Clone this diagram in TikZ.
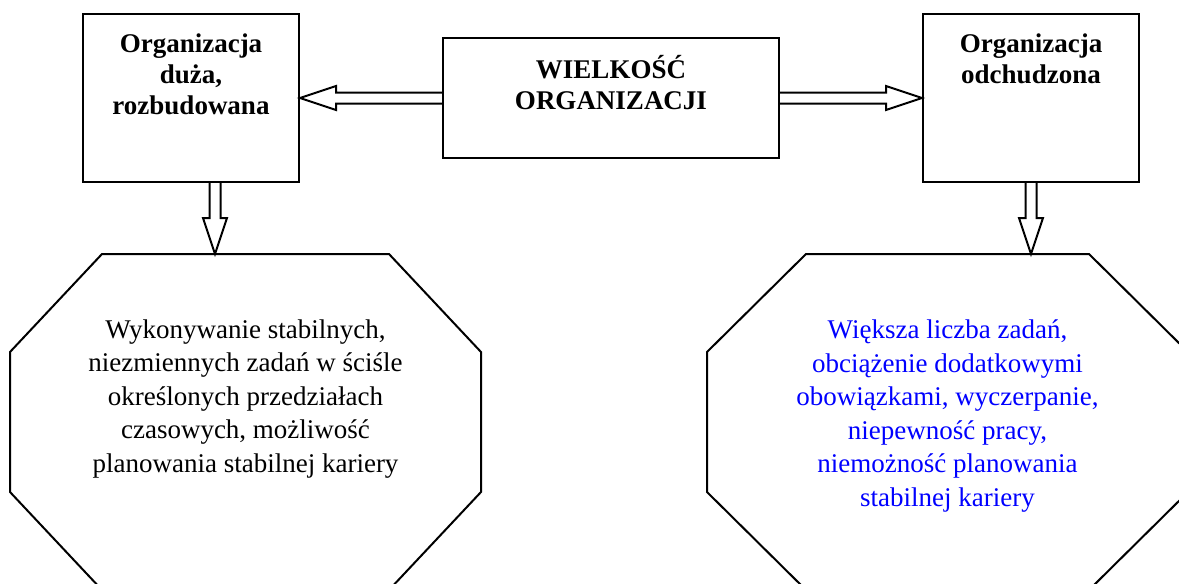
\documentclass[tikz,border=0pt]{standalone}
\usepackage{fontspec}
\setmainfont{Liberation Serif}
\usepackage{xcolor}
\usetikzlibrary{calc, positioning}
\definecolor{txtblue}{RGB}{0,0,255}

\begin{document}
\begin{tikzpicture}[x=0.5pt, y=-0.5pt,
    box/.style={draw, line width=1pt, inner sep=0pt, minimum width=108pt, minimum height=84pt},
    head/.style={align=center, font=\fontsize{13.5}{15.5}\selectfont\bfseries},
    octa/.style={inner sep=0pt, outer sep=0pt, minimum height=168pt},
    body/.style={align=center, font=\fontsize{13.5}{16.75}\selectfont},
    hollow/.style={line width=1pt, to path={let \p1=($(\tikztotarget)!18pt!(\tikztostart)$) in
        ($(\tikztostart)!2.75pt!90:(\tikztotarget)$) -- ($(\p1)!2.75pt!-90:(\tikztostart)$) -- ($(\p1)!6pt!-90:(\tikztostart)$)
        -- (\tikztotarget) -- ($(\p1)!6pt!90:(\tikztostart)$) -- ($(\p1)!2.75pt!90:(\tikztostart)$) -- ($(\tikztostart)!2.75pt!-90:(\tikztotarget)$)}}]
    \useasboundingbox (0,0) rectangle (1179,584);
    \clip (0,0) rectangle (1179,584);

    \node[box] (bigorg) at (191, 98) {};
    \node[box, minimum width=168pt, minimum height=60pt] (size) at (611, 98) {};
    \node[box] (leanorg) at (1031, 98) {};
    \node[head] (bigtxt) at ([yshift=-30.5pt]bigorg.north) {Organizacja\\duża,\\rozbudowana};
    \node[head] (sizetxt) at ([yshift=-23pt]size.north) {WIELKOŚĆ\\ORGANIZACJI};
    \node[head] (leantxt) at ([yshift=-23pt]leanorg.north) {Organizacja\\odchudzona};

    \node[octa, minimum width=235.5pt] (stable) at (245.5, 422) {};
    \node[octa, minimum width=240.5pt] (strain) at (947.5, 422) {};
    % octagon outlines, corners cut \cut x 49pt
    \foreach \oct/\cut in {stable/46pt, strain/49.5pt}
        \draw[line width=1pt] ([xshift=\cut]\oct.north west) -- ([xshift=-\cut]\oct.north east)
            -- ([yshift=-49pt]\oct.north east) -- ([yshift=49pt]\oct.south east)
            -- ([xshift=-\cut]\oct.south east) -- ([xshift=\cut]\oct.south west)
            -- ([yshift=49pt]\oct.south west) -- ([yshift=-49pt]\oct.north west) -- cycle;
    \node[body] (stabletxt) at ([yshift=11.5pt]stable.center) {Wykonywanie stabilnych,\\niezmiennych zadań w ściśle\\określonych przedziałach\\czasowych, możliwość\\planowania stabilnej kariery};
    \node[body, text=txtblue] (straintxt) at ([yshift=3pt]strain.center) {Większa liczba zadań,\\obciążenie dodatkowymi\\obowiązkami, wyczerpanie,\\niepewność pracy,\\niemożność planowania\\stabilnej kariery};

    % block arrows
    \coordinate (downL) at ([xshift=12pt]bigorg.south);
    \draw[hollow] (size.west) to (bigorg.east);
    \draw[hollow] (size.east) to (leanorg.west);
    \draw[hollow] (downL) to (downL |- stable.north);
    \draw[hollow] (leanorg.south) to (leanorg.south |- strain.north);
\end{tikzpicture}
\end{document}
